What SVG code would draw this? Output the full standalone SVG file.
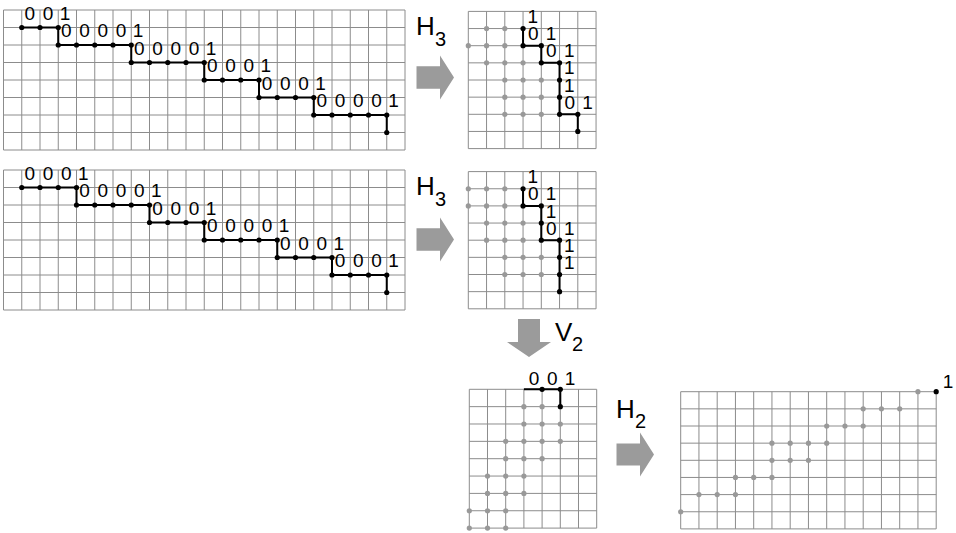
<svg xmlns="http://www.w3.org/2000/svg" xmlns:xlink="http://www.w3.org/1999/xlink" width="956" height="533" viewBox="0 0 956 533">
<style>
.grid{fill:none;stroke:#8c8c8c;stroke-width:1}
.path{fill:none;stroke:#000;stroke-width:2}
.b{fill:#000}
.g{fill:#999}
.d{font-family:"Liberation Sans",Arial,sans-serif;font-size:19px;fill:#000}
.lab{font-family:"Liberation Sans",Arial,sans-serif;font-size:26px;fill:#000}
.sub{font-family:"Liberation Sans",Arial,sans-serif;font-size:20px;fill:#000}
.arrow{fill:#9b9b9b}
</style>
<defs>
<path id="gridL" class="grid" d="M0 0V140M18.25 0V140M36.5 0V140M54.75 0V140M73 0V140M91.25 0V140M109.5 0V140M127.75 0V140M146 0V140M164.25 0V140M182.5 0V140M200.75 0V140M219 0V140M237.25 0V140M255.5 0V140M273.75 0V140M292 0V140M310.25 0V140M328.5 0V140M346.75 0V140M365 0V140M383.25 0V140M401.5 0V140M0 0H401.5M0 17.5H401.5M0 35H401.5M0 52.5H401.5M0 70H401.5M0 87.5H401.5M0 105H401.5M0 122.5H401.5M0 140H401.5"/>
<path id="gridR" class="grid" d="M0 0V137.2M18.25 0V137.2M36.5 0V137.2M54.75 0V137.2M73 0V137.2M91.25 0V137.2M109.5 0V137.2M127.75 0V137.2M0 0H127.75M0 17.15H127.75M0 34.3H127.75M0 51.45H127.75M0 68.6H127.75M0 85.75H127.75M0 102.9H127.75M0 120.05H127.75M0 137.2H127.75"/>
</defs>

<g id="panel-top-left" transform="translate(3.5,10)">
<use xlink:href="#gridL" href="#gridL"/>
<path class="path" d="M18.25 17.5H54.75V35H127.75V52.5H200.75V70H255.5V87.5H310.25V105H383.25V122.5"/>
<g class="b">
<circle cx="18.25" cy="17.5" r="2.6"/><circle cx="36.5" cy="17.5" r="2.6"/><circle cx="54.75" cy="17.5" r="2.6"/>
<circle cx="54.75" cy="35" r="2.6"/><circle cx="73" cy="35" r="2.6"/><circle cx="91.25" cy="35" r="2.6"/><circle cx="109.5" cy="35" r="2.6"/><circle cx="127.75" cy="35" r="2.6"/>
<circle cx="127.75" cy="52.5" r="2.6"/><circle cx="146" cy="52.5" r="2.6"/><circle cx="164.25" cy="52.5" r="2.6"/><circle cx="182.5" cy="52.5" r="2.6"/><circle cx="200.75" cy="52.5" r="2.6"/>
<circle cx="200.75" cy="70" r="2.6"/><circle cx="219" cy="70" r="2.6"/><circle cx="237.25" cy="70" r="2.6"/><circle cx="255.5" cy="70" r="2.6"/>
<circle cx="255.5" cy="87.5" r="2.6"/><circle cx="273.75" cy="87.5" r="2.6"/><circle cx="292" cy="87.5" r="2.6"/><circle cx="310.25" cy="87.5" r="2.6"/>
<circle cx="310.25" cy="105" r="2.6"/><circle cx="328.5" cy="105" r="2.6"/><circle cx="346.75" cy="105" r="2.6"/><circle cx="365" cy="105" r="2.6"/><circle cx="383.25" cy="105" r="2.6"/>
<circle cx="383.25" cy="122.5" r="2.6"/>
</g>
<text class="d" x="21.1 33 39.3 51 56.3" y="9.5">0 0 1</text>
<text class="d" x="57.6 70 75.8 88 94.1 106 112.3 124 129.3" y="27">0 0 0 0 1</text>
<text class="d" x="130.6 143 148.8 161 167.1 179 185.3 197 202.3" y="44.5">0 0 0 0 1</text>
<text class="d" x="203.6 216 221.8 234 240.1 252 257" y="62">0 0 0 1</text>
<text class="d" x="258.3 271 276.6 289 294.8 307 311.8" y="79.5">0 0 0 1</text>
<text class="d" x="313.1 325 331.3 344 349.6 362 367.8 380 384.8" y="97">0 0 0 0 1</text>
</g>

<g id="panel-mid-left" transform="translate(3.5,170)">
<use xlink:href="#gridL" href="#gridL"/>
<path class="path" d="M18.25 17.5H73V35H146V52.5H200.75V70H273.75V87.5H328.5V105H383.25V122.5"/>
<g class="b">
<circle cx="18.25" cy="17.5" r="2.6"/><circle cx="36.5" cy="17.5" r="2.6"/><circle cx="54.75" cy="17.5" r="2.6"/><circle cx="73" cy="17.5" r="2.6"/>
<circle cx="73" cy="35" r="2.6"/><circle cx="91.25" cy="35" r="2.6"/><circle cx="109.5" cy="35" r="2.6"/><circle cx="127.75" cy="35" r="2.6"/><circle cx="146" cy="35" r="2.6"/>
<circle cx="146" cy="52.5" r="2.6"/><circle cx="164.25" cy="52.5" r="2.6"/><circle cx="182.5" cy="52.5" r="2.6"/><circle cx="200.75" cy="52.5" r="2.6"/>
<circle cx="200.75" cy="70" r="2.6"/><circle cx="219" cy="70" r="2.6"/><circle cx="237.25" cy="70" r="2.6"/><circle cx="255.5" cy="70" r="2.6"/><circle cx="273.75" cy="70" r="2.6"/>
<circle cx="273.75" cy="87.5" r="2.6"/><circle cx="292" cy="87.5" r="2.6"/><circle cx="310.25" cy="87.5" r="2.6"/><circle cx="328.5" cy="87.5" r="2.6"/>
<circle cx="328.5" cy="105" r="2.6"/><circle cx="346.75" cy="105" r="2.6"/><circle cx="365" cy="105" r="2.6"/><circle cx="383.25" cy="105" r="2.6"/>
<circle cx="383.25" cy="122.5" r="2.6"/>
</g>
<text class="d" x="21.1 33 39.3 51 57.6 70 74.5" y="9.5">0 0 0 1</text>
<text class="d" x="75.8 88 94.1 106 112.3 124 130.6 142 147.5" y="27">0 0 0 0 1</text>
<text class="d" x="148.8 161 167.1 179 185.3 197 202.3" y="44.5">0 0 0 1</text>
<text class="d" x="203.6 216 221.8 234 240.1 252 258.3 270 275.3" y="62">0 0 0 0 1</text>
<text class="d" x="276.6 289 294.8 307 313.1 325 330" y="79.5">0 0 0 1</text>
<text class="d" x="331.3 344 349.6 362 367.8 380 384.8" y="97">0 0 0 1</text>
</g>

<g id="panel-top-right" transform="translate(468.3,11.4)">
<use xlink:href="#gridR" href="#gridR"/>
<g class="g">
<circle cx="18.25" cy="17.15" r="2.6"/><circle cx="36.5" cy="17.15" r="2.6"/>
<circle cx="0" cy="34.3" r="2.6"/><circle cx="18.25" cy="34.3" r="2.6"/><circle cx="36.5" cy="34.3" r="2.6"/>
<circle cx="18.25" cy="51.45" r="2.6"/><circle cx="36.5" cy="51.45" r="2.6"/><circle cx="54.75" cy="51.45" r="2.6"/>
<circle cx="36.5" cy="68.6" r="2.6"/><circle cx="54.75" cy="68.6" r="2.6"/><circle cx="73" cy="68.6" r="2.6"/>
<circle cx="36.5" cy="85.75" r="2.6"/><circle cx="54.75" cy="85.75" r="2.6"/><circle cx="73" cy="85.75" r="2.6"/>
<circle cx="36.5" cy="102.9" r="2.6"/><circle cx="54.75" cy="102.9" r="2.6"/><circle cx="73" cy="102.9" r="2.6"/>
</g>
<path class="path" d="M54.75 17.15V34.3H73V51.45H91.25V102.9H109.5V120.05"/>
<g class="b">
<circle cx="54.75" cy="17.15" r="2.6"/><circle cx="54.75" cy="34.3" r="2.6"/><circle cx="73" cy="34.3" r="2.6"/><circle cx="73" cy="51.45" r="2.6"/><circle cx="91.25" cy="51.45" r="2.6"/><circle cx="91.25" cy="68.6" r="2.6"/><circle cx="91.25" cy="85.75" r="2.6"/><circle cx="91.25" cy="102.9" r="2.6"/><circle cx="109.5" cy="102.9" r="2.6"/><circle cx="109.5" cy="120.05" r="2.6"/>
</g>
<text class="d" x="59.25" y="11.65">1</text>
<text class="d" x="59.6 70 77.5" y="28.8">0 1</text>
<text class="d" x="77.8 88 95.75" y="45.95">0 1</text>
<text class="d" x="95.75" y="63.1">1</text>
<text class="d" x="95.75" y="80.25">1</text>
<text class="d" x="96.1 106 114" y="97.4">0 1</text>
</g>

<g id="panel-mid-right" transform="translate(468.3,171.6)">
<use xlink:href="#gridR" href="#gridR"/>
<g class="g">
<circle cx="0" cy="17.15" r="2.6"/><circle cx="18.25" cy="17.15" r="2.6"/><circle cx="36.5" cy="17.15" r="2.6"/>
<circle cx="0" cy="34.3" r="2.6"/><circle cx="18.25" cy="34.3" r="2.6"/><circle cx="36.5" cy="34.3" r="2.6"/>
<circle cx="18.25" cy="51.45" r="2.6"/><circle cx="36.5" cy="51.45" r="2.6"/><circle cx="54.75" cy="51.45" r="2.6"/>
<circle cx="18.25" cy="68.6" r="2.6"/><circle cx="36.5" cy="68.6" r="2.6"/><circle cx="54.75" cy="68.6" r="2.6"/>
<circle cx="36.5" cy="85.75" r="2.6"/><circle cx="54.75" cy="85.75" r="2.6"/><circle cx="73" cy="85.75" r="2.6"/>
<circle cx="36.5" cy="102.9" r="2.6"/><circle cx="54.75" cy="102.9" r="2.6"/><circle cx="73" cy="102.9" r="2.6"/>
</g>
<path class="path" d="M54.75 17.15V34.3H73V68.6H91.25V120.05"/>
<g class="b">
<circle cx="54.75" cy="17.15" r="2.6"/><circle cx="54.75" cy="34.3" r="2.6"/><circle cx="73" cy="34.3" r="2.6"/><circle cx="73" cy="51.45" r="2.6"/><circle cx="73" cy="68.6" r="2.6"/><circle cx="91.25" cy="68.6" r="2.6"/><circle cx="91.25" cy="85.75" r="2.6"/><circle cx="91.25" cy="102.9" r="2.6"/><circle cx="91.25" cy="120.05" r="2.6"/>
</g>
<text class="d" x="59.25" y="11.65">1</text>
<text class="d" x="59.6 70 77.5" y="28.8">0 1</text>
<text class="d" x="77.5" y="45.95">1</text>
<text class="d" x="77.8 88 95.75" y="63.1">0 1</text>
<text class="d" x="95.75" y="80.25">1</text>
<text class="d" x="95.75" y="97.4">1</text>
</g>

<g id="panel-bottom-mid" transform="translate(469.3,389.3)">
<path class="grid" d="M0 0V138.8M18.2 0V138.8M36.4 0V138.8M54.6 0V138.8M72.8 0V138.8M91 0V138.8M109.2 0V138.8M127.4 0V138.8M0 0H127.4M0 17.35H127.4M0 34.7H127.4M0 52.05H127.4M0 69.4H127.4M0 86.75H127.4M0 104.1H127.4M0 121.45H127.4M0 138.8H127.4"/>
<g class="g">
<circle cx="54.6" cy="17.35" r="2.6"/><circle cx="72.8" cy="17.35" r="2.6"/>
<circle cx="54.6" cy="34.7" r="2.6"/><circle cx="72.8" cy="34.7" r="2.6"/><circle cx="91" cy="34.7" r="2.6"/>
<circle cx="36.4" cy="52.05" r="2.6"/><circle cx="54.6" cy="52.05" r="2.6"/><circle cx="72.8" cy="52.05" r="2.6"/><circle cx="91" cy="52.05" r="2.6"/>
<circle cx="36.4" cy="69.4" r="2.6"/><circle cx="54.6" cy="69.4" r="2.6"/><circle cx="72.8" cy="69.4" r="2.6"/>
<circle cx="18.2" cy="86.75" r="2.6"/><circle cx="36.4" cy="86.75" r="2.6"/><circle cx="54.6" cy="86.75" r="2.6"/>
<circle cx="18.2" cy="104.1" r="2.6"/><circle cx="36.4" cy="104.1" r="2.6"/><circle cx="54.6" cy="104.1" r="2.6"/>
<circle cx="0" cy="121.45" r="2.6"/><circle cx="18.2" cy="121.45" r="2.6"/><circle cx="36.4" cy="121.45" r="2.6"/>
<circle cx="0" cy="138.8" r="2.6"/><circle cx="18.2" cy="138.8" r="2.6"/><circle cx="36.4" cy="138.8" r="2.6"/>
</g>
<path class="path" d="M54.6 0H91V17.35"/>
<g class="b">
<circle cx="72.8" cy="0" r="2.6"/><circle cx="91" cy="0" r="2.6"/><circle cx="91" cy="17.35" r="2.6"/>
</g>
<text class="d" x="59.4 69 77.6 87 95.5" y="-4.5">0 0 1</text>
</g>

<g id="panel-bottom-right" transform="translate(680.7,391.7)">
<path class="grid" d="M0 0V137.2M18.25 0V137.2M36.5 0V137.2M54.75 0V137.2M73 0V137.2M91.25 0V137.2M109.5 0V137.2M127.75 0V137.2M146 0V137.2M164.25 0V137.2M182.5 0V137.2M200.75 0V137.2M219 0V137.2M237.25 0V137.2M255.5 0V137.2M0 0H255.5M0 17.15H255.5M0 34.3H255.5M0 51.45H255.5M0 68.6H255.5M0 85.75H255.5M0 102.9H255.5M0 120.05H255.5M0 137.2H255.5"/>
<g class="g">
<circle cx="237.25" cy="0" r="2.6"/>
<circle cx="182.5" cy="17.15" r="2.6"/><circle cx="200.75" cy="17.15" r="2.6"/><circle cx="219" cy="17.15" r="2.6"/>
<circle cx="146" cy="34.3" r="2.6"/><circle cx="164.25" cy="34.3" r="2.6"/><circle cx="182.5" cy="34.3" r="2.6"/>
<circle cx="91.25" cy="51.45" r="2.6"/><circle cx="109.5" cy="51.45" r="2.6"/><circle cx="127.75" cy="51.45" r="2.6"/><circle cx="146" cy="51.45" r="2.6"/>
<circle cx="91.25" cy="68.6" r="2.6"/><circle cx="109.5" cy="68.6" r="2.6"/><circle cx="127.75" cy="68.6" r="2.6"/>
<circle cx="54.75" cy="85.75" r="2.6"/><circle cx="73" cy="85.75" r="2.6"/><circle cx="91.25" cy="85.75" r="2.6"/>
<circle cx="18.25" cy="102.9" r="2.6"/><circle cx="36.5" cy="102.9" r="2.6"/><circle cx="54.75" cy="102.9" r="2.6"/>
<circle cx="0" cy="120.05" r="2.6"/>
</g>
<circle class="b" cx="255.5" cy="0" r="2.6"/>
<text class="d" x="262" y="-3.7">1</text>
</g>

<g id="connectors">
<g id="arrow-h3-top">
<polygon class="arrow" points="416.5,66.3 440,66.3 440,55.5 454,77.5 440,99.5 440,88.7 416.5,88.7"/>
<text class="lab" x="416" y="35">H<tspan class="sub" x="435" y="46">3</tspan></text>
</g>
<g id="arrow-h3-mid">
<polygon class="arrow" points="416.5,228.3 440,228.3 440,217.5 454,239.5 440,261.5 440,250.7 416.5,250.7"/>
<text class="lab" x="416" y="195">H<tspan class="sub" x="435" y="206">3</tspan></text>
</g>
<g id="arrow-v2">
<polygon class="arrow" points="518,319 540,319 540,342 551,342 529,357 507,342 518,342"/>
<text class="lab" x="555" y="341">V<tspan class="sub" x="572" y="351">2</tspan></text>
</g>
<g id="arrow-h2">
<polygon class="arrow" points="616.5,443.5 640,443.5 640,432.5 654,454.5 640,476.5 640,465.5 616.5,465.5"/>
<text class="lab" x="616" y="417.5">H<tspan class="sub" x="635" y="427.5">2</tspan></text>
</g>
</g>
</svg>
